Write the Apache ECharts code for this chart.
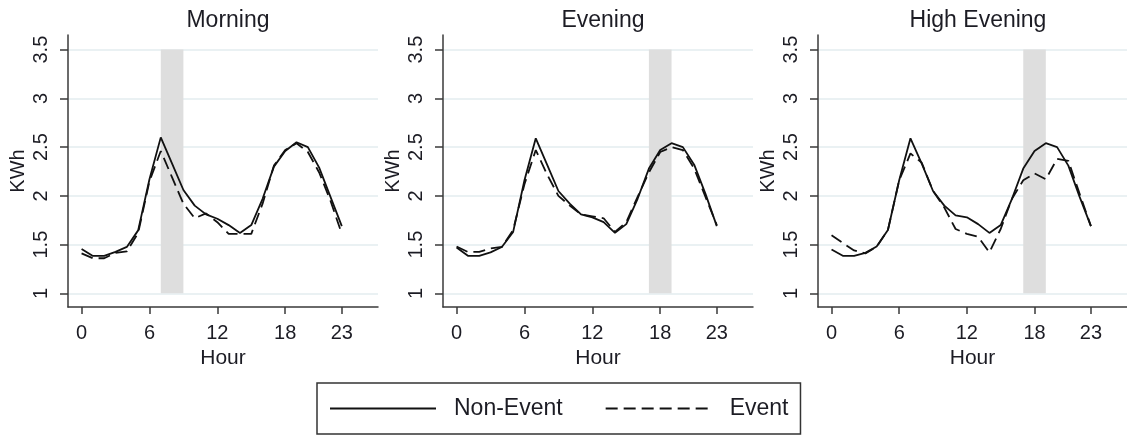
<!DOCTYPE html>
<html>
<head>
<meta charset="utf-8">
<script src="https://cdn.jsdelivr.net/npm/echarts@6/dist/echarts.min.js"></script>
<style>
html, body { margin: 0; padding: 0; background: #fff; }
#container { width: 1127px; height: 437px; }
</style>
</head>
<body>
<div id="container"></div>
<script>
var hours = [0, 1, 2, 3, 4, 5, 6, 7, 8, 9, 10, 11, 12, 13, 14, 15, 16, 17, 18, 19, 20, 21, 22, 23];
var panelTitles = ['Morning', 'Evening', 'High Evening'];
var xTicks = [0, 6, 12, 18, 23];
var yTicks = [1, 1.5, 2, 2.5, 3, 3.5];
var eventWindows = [[7, 9], [17, 19], [17, 19]];

var morningNonEvent = [1.456, 1.384, 1.384, 1.425, 1.476, 1.646, 2.17, 2.60, 2.33, 2.06, 1.90, 1.81, 1.765, 1.70, 1.62, 1.70, 1.97, 2.30, 2.46, 2.55, 2.50, 2.29, 1.99, 1.69];
var morningEvent    = [1.41, 1.36, 1.36, 1.415, 1.43, 1.62, 2.15, 2.46, 2.19, 1.92, 1.77, 1.82, 1.73, 1.61, 1.61, 1.61, 1.92, 2.31, 2.47, 2.54, 2.45, 2.24, 1.95, 1.61];
var eveningNonEvent = [1.47, 1.385, 1.385, 1.42, 1.476, 1.63, 2.16, 2.59, 2.32, 2.05, 1.92, 1.81, 1.78, 1.73, 1.62, 1.71, 1.97, 2.28, 2.47, 2.54, 2.50, 2.32, 2.02, 1.69];
var eveningEvent    = [1.48, 1.425, 1.425, 1.46, 1.476, 1.65, 2.12, 2.47, 2.22, 2.00, 1.90, 1.81, 1.79, 1.77, 1.63, 1.73, 1.99, 2.24, 2.45, 2.50, 2.47, 2.28, 1.99, 1.70];
var highNonEvent    = [1.45, 1.385, 1.385, 1.415, 1.48, 1.65, 2.16, 2.59, 2.33, 2.05, 1.90, 1.80, 1.78, 1.71, 1.62, 1.70, 1.97, 2.28, 2.46, 2.54, 2.50, 2.31, 1.99, 1.69];
var highEvent       = [1.595, 1.517, 1.44, 1.41, 1.476, 1.65, 2.16, 2.435, 2.34, 2.05, 1.88, 1.66, 1.61, 1.58, 1.42, 1.66, 1.97, 2.16, 2.23, 2.17, 2.38, 2.36, 2.02, 1.69];

var nonEventData = [morningNonEvent, eveningNonEvent, highNonEvent];
var eventData = [morningEvent, eveningEvent, highEvent];

var dom = document.getElementById('container');
var myChart = echarts.init(dom);
var font = "'Liberation Sans', Arial, sans-serif";
var textColor = '#1c1c24';
var axisColor = '#3a3a3a';

function pairs(xs, ys) {
    var out = [];
    for (var i = 0; i < xs.length; i++) out.push([xs[i], ys[i]]);
    return out;
}

var titles = [], grids = [], xAxes = [], yAxes = [], series = [];
for (var p = 0; p < 3; p++) {
    var left = 68 + p * 375;
    titles.push({
        text: panelTitles[p],
        left: left + 155,
        top: 4,
        textAlign: 'center',
        textStyle: { fontFamily: font, fontSize: 23, fontWeight: 'normal', color: textColor }
    });
    grids.push({ left: left, width: 310, top: 35, height: 272 });
    xAxes.push({
        type: 'value', gridIndex: p, min: -1.2, max: 26.2,
        name: 'Hour', nameLocation: 'middle', nameGap: 37,
        nameTextStyle: { fontFamily: font, fontSize: 21, color: textColor },
        axisLine: { onZero: false, lineStyle: { color: axisColor, width: 1.5 } },
        axisTick: { customValues: xTicks, length: 7, lineStyle: { color: axisColor, width: 1.5 } },
        axisLabel: { customValues: xTicks, margin: 16, fontFamily: font, fontSize: 20, color: textColor },
        splitLine: { show: false }
    });
    yAxes.push({
        type: 'value', gridIndex: p, min: 0.86, max: 3.65,
        name: 'KWh', nameLocation: 'middle', nameGap: 40,
        nameTextStyle: { fontFamily: font, fontSize: 20, color: textColor },
        axisLine: { show: true, onZero: false, lineStyle: { color: axisColor, width: 1.5 } },
        axisTick: { show: true, customValues: yTicks, length: 8, lineStyle: { color: axisColor, width: 1.5 } },
        axisLabel: { customValues: yTicks, rotate: 90, margin: 17, fontFamily: font, fontSize: 20, color: textColor },
        splitLine: { show: false }
    });
    var gridLines = [];
    for (var k = 0; k < yTicks.length; k++) gridLines.push({ yAxis: yTicks[k] });
    series.push({
        name: 'Non-Event', type: 'line', xAxisIndex: p, yAxisIndex: p,
        data: pairs(hours, nonEventData[p]),
        symbol: 'none', z: 3,
        lineStyle: { color: '#111', width: 1.8, type: 'solid' },
        itemStyle: { color: '#111' },
        markLine: {
            silent: true, symbol: ['none', 'none'], z: 0, animation: false,
            label: { show: false },
            lineStyle: { color: '#e3ecef', width: 1.5, type: 'solid' },
            emphasis: { disabled: true },
            data: gridLines
        },
        markArea: {
            silent: true, z: 1, animation: false,
            itemStyle: { color: '#dedede' },
            data: [[{ xAxis: eventWindows[p][0], yAxis: 1 }, { xAxis: eventWindows[p][1], yAxis: 3.5 }]]
        }
    });
    series.push({
        name: 'Event', type: 'line', xAxisIndex: p, yAxisIndex: p,
        data: pairs(hours, eventData[p]),
        symbol: 'none', z: 3,
        lineStyle: { color: '#111', width: 1.8, type: [12, 6] },
        itemStyle: { color: '#111' }
    });
}

option = {
    backgroundColor: '#fff',
    animation: false,
    title: titles,
    grid: grids,
    xAxis: xAxes,
    yAxis: yAxes,
    legend: {
        data: ['Non-Event', 'Event'],
        left: 317, top: 383,
        itemWidth: 106, itemHeight: 14, itemGap: 42,
        padding: [14, 12],
        borderColor: '#333', borderWidth: 1.5, borderRadius: 0,
        selectedMode: false,
        itemStyle: { opacity: 0 },
        textStyle: { fontFamily: font, fontSize: 23, color: textColor, padding: [0, 0, 0, 13] }
    },
    series: series
};
if (option && typeof option === "object") {
    myChart.setOption(option, true);
}
</script>
</body>
</html>
